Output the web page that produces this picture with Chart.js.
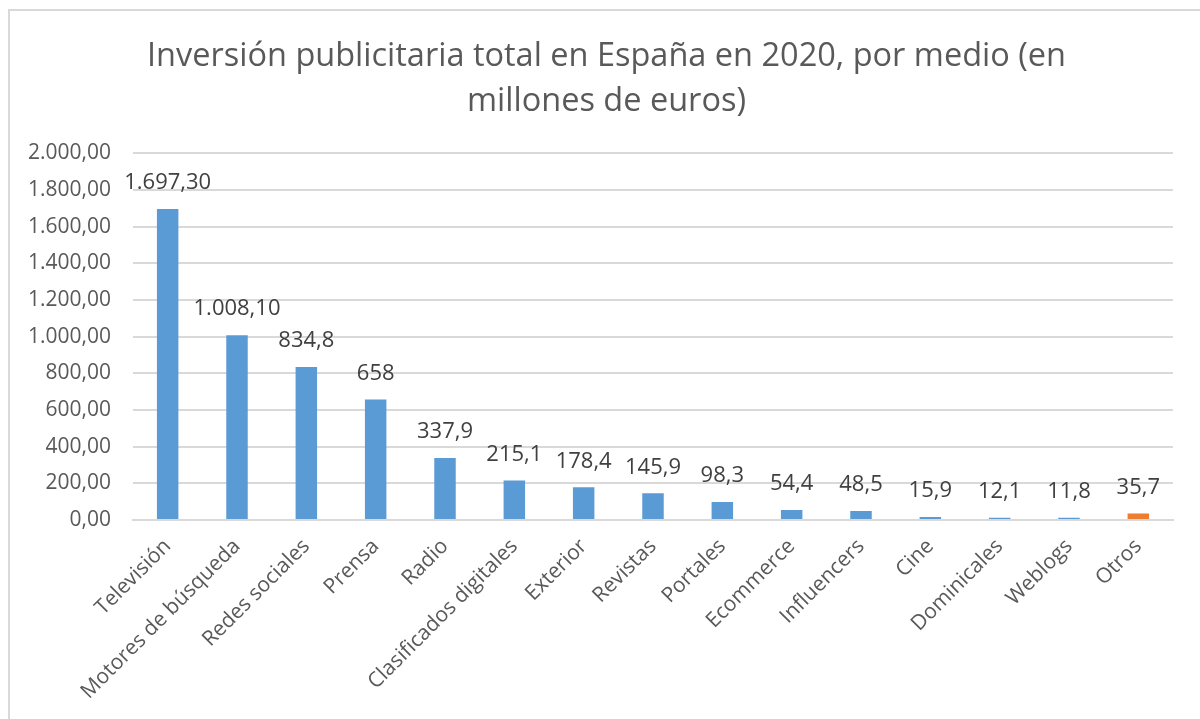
<!DOCTYPE html>
<html>
<head>
<meta charset="utf-8">
<script src="https://cdn.jsdelivr.net/npm/chart.js@4.4.0/dist/chart.umd.min.js"></script>
<style>
  html, body { margin: 0; padding: 0; background: #ffffff; }
  #wrap { position: relative; width: 1200px; height: 719px; overflow: hidden; }
  #frame { position: absolute; left: 8px; top: 9px; width: 1300px; height: 800px; border: 2px solid #d9d9d9; box-sizing: border-box; }
  canvas { position: absolute; left: 0; top: 0; }
</style>
</head>
<body>
<div id="wrap">
  <div id="frame"></div>
  <canvas id="c" width="1200" height="719"></canvas>
</div>
<script>
const categories = ["Televisión", "Motores de búsqueda", "Redes sociales", "Prensa", "Radio", "Clasificados digitales", "Exterior", "Revistas", "Portales", "Ecommerce", "Influencers", "Cine", "Dominicales", "Weblogs", "Otros"];
const values = [1697.3, 1008.1, 834.8, 658, 337.9, 215.1, 178.4, 145.9, 98.3, 54.4, 48.5, 15.9, 12.1, 11.8, 35.7];
const valueLabels = ["1.697,30", "1.008,10", "834,8", "658", "337,9", "215,1", "178,4", "145,9", "98,3", "54,4", "48,5", "15,9", "12,1", "11,8", "35,7"];
const barColors = ["#5B9BD5", "#5B9BD5", "#5B9BD5", "#5B9BD5", "#5B9BD5", "#5B9BD5", "#5B9BD5", "#5B9BD5", "#5B9BD5", "#5B9BD5", "#5B9BD5", "#5B9BD5", "#5B9BD5", "#5B9BD5", "#ED7D31"];
const titleLines = ["Inversión publicitaria total en España en 2020, por medio (en", "millones de euros)"];
const yMin = 0, yMax = 2000, yStep = 200;

const FONT = "'Open Sans', 'Noto Sans', sans-serif";

function fmtEs(v) {
  const parts = v.toFixed(2).split(".");
  const intPart = parts[0].replace(/\B(?=(\d{3})+(?!\d))/g, ".");
  return intPart + "," + parts[1];
}

const dataLabelPlugin = {
  id: "dataLabels",
  afterDatasetsDraw(chart) {
    const ctx = chart.ctx;
    const meta = chart.getDatasetMeta(0);
    ctx.save();
    ctx.font = "22px " + FONT;
    ctx.fillStyle = "#404040";
    ctx.textAlign = "center";
    ctx.textBaseline = "middle";
    meta.data.forEach((bar, i) => {
      ctx.fillText(valueLabels[i], bar.x, bar.y - 26);
    });
    ctx.restore();
  }
};

// shift the title box so its centre sits where the reference title is centred
const titleShiftPlugin = {
  id: "titleShift",
  afterLayout(chart) {
    if (chart.titleBlock) {
      chart.titleBlock.left += 30;
    }
  }
};

new Chart(document.getElementById("c"), {
  type: "bar",
  data: {
    labels: categories,
    datasets: [{
      data: values,
      backgroundColor: barColors,
      borderWidth: 0,
      barPercentage: 0.31,
      categoryPercentage: 1.0
    }]
  },
  options: {
    responsive: false,
    animation: false,
    devicePixelRatio: 1,
    layout: { padding: { left: 10, right: 27, top: 10, bottom: 0 } },
    plugins: {
      legend: { display: false },
      tooltip: { enabled: false },
      title: {
        display: true,
        text: titleLines,
        color: "#595959",
        font: { family: FONT, size: 32.5, weight: "normal", lineHeight: 1.36 },
        padding: { top: 25, bottom: 30 }
      }
    },
    scales: {
      x: {
        grid: { display: false, drawTicks: false },
        border: { display: true, color: "#d9d9d9", width: 2 },
        ticks: {
          color: "#595959",
          font: { family: FONT, size: 21 },
          maxRotation: 45,
          minRotation: 45,
          autoSkip: false,
          padding: 14
        },
        afterFit(scale) { scale.height = 199; }
      },
      y: {
        min: yMin,
        max: yMax,
        grid: { color: "#d9d9d9", lineWidth: 2, drawTicks: false },
        border: { display: false },
        ticks: {
          stepSize: yStep,
          color: "#595959",
          font: { family: FONT, size: 21 },
          padding: 22,
          callback: (v) => fmtEs(v)
        },
        afterFit(scale) { scale.width = 123; }
      }
    }
  },
  plugins: [dataLabelPlugin, titleShiftPlugin]
});
</script>
</body>
</html>
